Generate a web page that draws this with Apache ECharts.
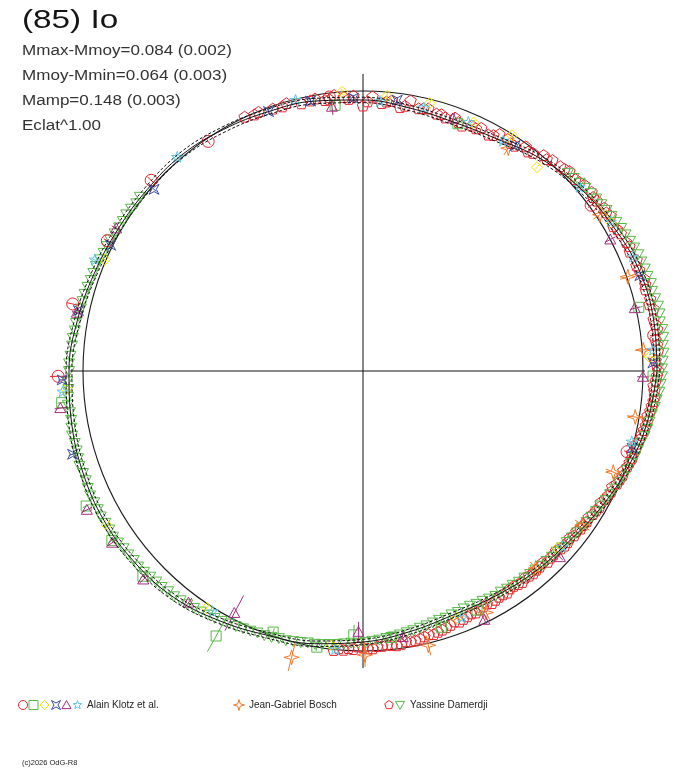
<!DOCTYPE html>
<html>
<head>
<meta charset="utf-8">
<script src="https://cdn.jsdelivr.net/npm/echarts@6/dist/echarts.min.js"></script>
<style>
html, body { margin: 0; padding: 0; background: #fff; }
#main { width: 688px; height: 768px; }
</style>
</head>
<body>
<div id="main"></div>
<script>
// model curve: rotational phase angle (deg) and relative radius (reference circle = 1)
var curveAngle = [0, 10, 20, 30, 40, 50, 60, 70, 80, 90, 100, 110, 120, 130, 140, 150, 160, 170,
                  180, 190, 200, 210, 220, 230, 240, 250, 260, 270, 280, 290, 300, 310, 320, 330, 340, 350];
var curveR = [1.050, 1.054, 1.050, 1.032, 1.014, 0.989, 0.957, 0.946, 0.954, 0.968, 0.979, 0.986,
              0.996, 1.007, 1.007, 1.011, 1.021, 1.036, 1.050, 1.057, 1.064, 1.068, 1.064, 1.054,
              1.029, 1.004, 0.989, 0.968, 0.946, 0.929, 0.932, 0.943, 0.954, 0.979, 1.007, 1.032];

// observations: [angle, radius, error]
var damerdjiPent = [[115,1.000],[113,.993],[112,.996],[109,.989],[107,.986],[106,.993],[103,.979],[101,.982],
  [100,.986],[98,.975],[97,.975],[96,.989],[94,.979],[93,.971],[92,.982],[90,.946],[89,.961],[88,.979],
  [86,.957],[85,.964],[84,.968],[82,.950],[81,.957],[80,.979],[78,.957],[77,.961],[76,.964],[74,.954],
  [73,.957],[72,.950],[70,.961],[69,.950],[68,.943],[66,.957],[65,.954],[64,.964],[62,.954],[61,.961],
  [60,.975],[58,.975],[57,.968],[56,.968],[54,.989],[53,.979],[52,.986],[50,1.004],[49,1.000],[48,1.011],
  [46,1.014],[45,1.018],[44,1.025],[42,1.021],[41,1.025],[40,1.032],[38,1.036],[37,1.029],[36,1.032],
  [34,1.039],[33,1.036],[32,1.043],[30,1.032],[29,1.039],[28,1.043],[26,1.046],[25,1.050],[24,1.043],
  [22,1.054],[21,1.046],[20,1.050],[18,1.057],[17,1.054],[16,1.050],[14,1.057],[13,1.050],[12,1.061],
  [10,1.054],[9,1.057],[8,1.061],[6,1.050],[5,1.054],[4,1.057],[2,1.046],[1,1.050],[0,1.054],
  [359,1.050],[358,1.046],[357,1.039],[356,1.043],[355,1.046],[354,1.043],[353,1.039],[352,1.036],
  [351,1.029],[350,1.032],[349,1.029],[348,1.025],[347,1.021],[346,1.018],[345,1.011],[344,1.014],
  [343,1.004],[342,1.011],[341,1.007],[340,1.004],[339,.996],[338,1.000],[337,.996],[336,.993],
  [335,.982],[334,.986],[333,.982],[332,.979],[331,.971],[330,.975],[329,.971],[328,.968],[327,.961],
  [326,.964],[325,.961],[324,.961],[323,.954],[322,.957],[321,.950],[320,.954],[319,.954],[318,.950],
  [317,.943],[316,.946],[315,.946],[314,.950],[313,.939],[312,.943],[311,.943],[310,.946],[309,.943],
  [308,.939],[307,.946],[306,.943],[305,.939],[304,.939],[303,.946],[302,.943],[301,.943],[300,.946],
  [299,.950],[298,.943],[297,.946],[296,.950],[295,.954],[294,.950],[293,.954],[292,.957],[291,.961],
  [290,.954],[289,.961],[288,.964],[287,.968],[286,.971],[285,.975],[284,.971],[283,.975],[282,.979],
  [281,.982],[280,.982],[279,.979],[278,.986],[277,.989],[276,.986],[275,.982],[274,.986],[273,.986],
  [272,.993],[271,.993],[270,.989],[269,.986],[268,.996],[267,.993],[266,1.000],[265,.996],[264,1.004]];
var damerdjiTri = [[142,1.011],[143.5,1.007],[145,1.011],[146.5,1.014],[148,1.011],[149.5,1.011],
  [151,1.014],[152.5,1.018],[154,1.018],[155.5,1.018],[157,1.021],[158.5,1.025],[160,1.025],
  [161.5,1.025],[163,1.029],[164.5,1.032],[166,1.032],[167.5,1.032],[169,1.036],[170.5,1.039],
  [172,1.039],[173.5,1.043],[175,1.043],[177,1.046],[178.5,1.050],[180,1.050],[182,1.057],[183.5,1.054],
  [185,1.057],[186.5,1.061],[188,1.057],[189.5,1.057],[191,1.061],[192.5,1.064],[194,1.061],
  [195.5,1.061],[197,1.064],[198.5,1.068],[200,1.064],[201.5,1.064],[203,1.068],[204.5,1.071],
  [206,1.068],[207.5,1.068],[209,1.071],[210.5,1.068],[212,1.068],[213.5,1.071],[215,1.068],
  [216.5,1.064],[218,1.064],[219.5,1.061],[221,1.064],[222.5,1.061],[224,1.057],[225.5,1.054],
  [227,1.054],[228.5,1.050],[230,1.050],[231.5,1.046],[233,1.043],[234.5,1.039],[236,1.036],
  [237.5,1.032],[239,1.029],[240.5,1.025],[242,1.021],[243.5,1.018],[245,1.014],[246.5,1.011],
  [248,1.007],[249.5,1.007],[251,1.004],[252.5,1.000],[254,1.000],[255.5,.996],[257,.993],[258.5,.989],
  [260,.989],[261.5,.986],[263,.982],[264.5,.979],[266,.975],[267.5,.971],[269,.971],[270.5,.968],
  [272,.964],[273.5,.961],[275,.957],[276.5,.954],[278,.950],[279.5,.946],[281,.943],[282.5,.939],
  [284,.936],[285.5,.932],[287,.929],[288.5,.929],[290,.925],[291.5,.925],[293,.921],[294.5,.921],
  [296,.925],[297.5,.925],[299,.929],[300.5,.932],[302,.929],[303.5,.932],[305,.932],[306.5,.936],
  [308,.936],[309.5,.939],[311,.939],[312.5,.943],[314,.943],[315.5,.946],[317,.946],[318.5,.950],
  [320,.950],[321.5,.954],[323,.957],[324.5,.961],[326,.964],[327.5,.968],[329,.971],[330.5,.975],
  [332,.982],[333.5,.986],[335,.993],[336.5,.996],[338,1.004],[339.5,1.007],[341,1.011],[342.5,1.018],
  [344,1.021],[345.5,1.025],[347,1.032],[348.5,1.036],[350,1.039],[351.5,1.043],[353,1.050],
  [354.5,1.054],[356,1.061],[357.5,1.064],[359,1.068],[0.5,1.068],[2,1.071],[3.5,1.075],[5,1.075],
  [6.5,1.079],[8,1.079],[9.5,1.075],[11,1.079],[12.5,1.079],[14,1.075],[15.5,1.071],[17,1.075],
  [18.5,1.071],[20,1.071],[21.5,1.068],[23,1.068],[24.5,1.064],[26,1.061],[27.5,1.057],[29,1.054],
  [30.5,1.050],[32,1.046],[33.5,1.043],[35,1.039],[36.5,1.036],[38,1.032],[39.5,1.029],[41,1.025],
  [42.5,1.021],[44,1.018]];
var boschStar = [[56.9,.950,.029],[33.4,1.014,.029],[19.6,1.004,.029],[4.3,1.004,.029],[350.4,.986,.029],
  [338,.964,.029],[324.9,.957,.032],[311.2,.936,.029],[297,.968,.029],[283.4,1.007,.036],
  [270.4,1.014,.043],[256,1.054,.050]];
var klotzCircle = [[97,.986,.011],[124,.989,.014],[138,1.018,.018],[153,1.025,.014],[167,1.064,.021],
  [181,1.089,.029],[36,1.007,.014],[7,1.046,.014],[343,.986,.011]];
var klotzSquare = [[186,1.082,.014],[206,1.100,.014],[214,1.082,.014],[223,1.075,.014],[241,1.082,.064],
  [251,.986,.014],[260.5,1.000,.014],[268,.943,.036],[276,.957,.014],[287,.957,.014],[295.5,.946,.014],
  [96,.954,.021],[69,.946,.021],[13,1.011,.014],[359,1.036,.014]];
var klotzDiamond = [[94.3,1.000,.011],[85,.986,.011],[76,.986,.011],[66,.971,.011],[57.7,.996,.011],
  [49.5,.957,.011],[31,1.032,.011],[2.8,1.025,.011],[156.7,1.004,.011],[183.5,1.061,.011],
  [211,1.068,.011],[236.6,1.014,.011],[263.5,.986,.011],[290.8,.943,.011],[317.8,.939,.011]];
var klotzQuad = [[110,.986,.011],[101,.982,.011],[92,.975,.011],[82.8,.975,.011],[56,.971,.011],
  [139,.989,.011],[153.5,1.007,.011],[168,1.039,.011],[181.7,1.075,.014],[196,1.079,.014],
  [19,1.046,.011],[1.6,1.036,.011],[344,1.000,.011]];
var klotzTri = [[96.7,.950,.029],[70.4,.957,.021],[150,1.018,.018],[168.5,1.043,.018],[187,1.089,.021],
  [206.7,1.104,.021],[214.4,1.086,.018],[223.5,1.082,.018],[233,1.036,.021],[242,.979,.071],
  [269,.932,.036],[278.5,.961,.014],[296,.989,.018],[316.6,.968,.014],[28,1.000,.021],
  [13,.996,.018],[358.8,1.000,.021]];
var klotzStar = [[131,1.011,.011],[157.5,1.036,.011],[184,1.075,.011],[238,1.014,.011],[104,.996,.011],
  [86.4,.964,.011],[77,.964,.011],[67,.964,.011],[58.6,.961,.011],[40.3,1.014,.011],[31,1.032,.011],
  [22.9,1.046,.011],[4.1,1.039,.011],[345.2,.993,.011],[318.5,.950,.011],[291.8,.950,.011],
  [264.3,1.000,.011]];

var titleLines = ['Mmax-Mmoy=0.084 (0.002)', 'Mmoy-Mmin=0.064 (0.003)', 'Mamp=0.148 (0.003)', 'Eclat^1.00'];

var COL = {
  red: '#e8262e', green: '#58b947', yellow: '#f3e400', blue: '#3b4ea3',
  purple: '#a82f80', cyan: '#5ec6e2', orange: '#f07a2a'
};

// unit outlines of the marker shapes
var SHAPES = {
  square: [[-1,-1],[1,-1],[1,1],[-1,1]],
  diamond: [[0,-1],[1,0],[0,1],[-1,0]],
  triangle: [[0,-1],[1,0.8],[-1,0.8]],
  invTriangle: [[-1,-0.8],[1,-0.8],[0,1]],
  pentagon: [[0,-1],[0.951,-0.309],[0.588,0.809],[-0.588,0.809],[-0.951,-0.309]],
  star5: [[0,-1],[0.235,-0.324],[0.951,-0.309],[0.38,0.124],[0.588,0.809],[0,0.4],[-0.588,0.809],
          [-0.38,0.124],[-0.951,-0.309],[-0.235,-0.324]],
  quad: [[-1,-1],[0,-0.45],[1,-1],[0.45,0],[1,1],[0,0.45],[-1,1],[-0.45,0]],
  star4: [[0,-1],[0.22,-0.22],[1,0],[0.22,0.22],[0,1],[-0.22,0.22],[-1,0],[-0.22,-0.22]]
};

function symbolEl(shape, x, y, s, color) {
  var style = { fill: 'none', stroke: color, lineWidth: 1 };
  if (shape === 'circle') {
    return { type: 'circle', shape: { cx: x, cy: y, r: s / 2 }, style: style };
  }
  var pts = SHAPES[shape].map(function (q) { return [x + q[0] * s / 2, y + q[1] * s / 2]; });
  return { type: 'polygon', shape: { points: pts }, style: style };
}

// polar 0 only draws the reference circle, polar 1 carries the data,
// polars 2 and 3 give the dashed band around the model curve
var CENTER = [363, 371];
var UNIT = 280;      // pixels for radius 1
var RMAX = 1.2;

function markerSeries(name, points, shape, color, size) {
  return {
    type: 'custom',
    name: name,
    coordinateSystem: 'polar',
    polarIndex: 1,
    z: 3,
    data: points.map(function (p) { return [p[1], p[0], p[2] || 0]; }),
    encode: { radius: 0, angle: 1 },
    renderItem: function (params, api) {
      var r = api.value(0), a = api.value(1), e = api.value(2);
      var p = api.coord([r, a]);
      var children = [];
      if (e > 0) {
        var p1 = api.coord([r - e, a]), p2 = api.coord([r + e, a]);
        children.push({ type: 'line', shape: { x1: p1[0], y1: p1[1], x2: p2[0], y2: p2[1] },
                        style: { stroke: color, lineWidth: 1 } });
      }
      children.push(symbolEl(shape, p[0], p[1], size, color));
      return { type: 'group', children: children };
    }
  };
}

var curveData = curveAngle.map(function (a, i) { return [curveR[i], a]; });
curveData.push([curveR[0], 360]);

function curveSeries(idx, dashed) {
  return {
    type: 'line', coordinateSystem: 'polar', polarIndex: idx, data: curveData,
    smooth: 0.4, symbol: 'none', clip: false, silent: true, z: 5,
    lineStyle: { color: '#111', width: 1, type: dashed ? [3, 2] : 'solid' }
  };
}

var chart = echarts.init(document.getElementById('main'));

var legendItems = [];
[['circle', COL.red, 23], ['square', COL.green, 33.5], ['diamond', COL.yellow, 44.5],
 ['quad', COL.blue, 56], ['triangle', COL.purple, 66.5], ['star5', COL.cyan, 77.5],
 ['star4', COL.orange, 239], ['pentagon', COL.red, 389], ['invTriangle', COL.green, 400]].forEach(function (d) {
  legendItems.push(symbolEl(d[0], d[2], 705, d[0] === 'star4' ? 11 : 9, d[1]));
});

var textFont = '"Liberation Sans", Arial, sans-serif';
var graphics = [
  { type: 'text', x: 22, y: 21, scaleX: 1.28,
    style: { text: '(85) Io', fontSize: 26, fontFamily: textFont, fill: '#151515', verticalAlign: 'middle' } },
  { type: 'text', x: 22, y: 763,
    style: { text: '(c)2026 OdG-R8', fontSize: 7.5, fontFamily: textFont, fill: '#222', verticalAlign: 'middle' } },
  { type: 'text', x: 87, y: 705,
    style: { text: 'Alain Klotz et al.', fontSize: 10, fontFamily: textFont, fill: '#222', verticalAlign: 'middle' } },
  { type: 'text', x: 249, y: 705,
    style: { text: 'Jean-Gabriel Bosch', fontSize: 10, fontFamily: textFont, fill: '#222', verticalAlign: 'middle' } },
  { type: 'text', x: 410, y: 705,
    style: { text: 'Yassine Damerdji', fontSize: 10, fontFamily: textFont, fill: '#222', verticalAlign: 'middle' } },
  { type: 'group', children: legendItems }
];
titleLines.forEach(function (t, i) {
  graphics.push({ type: 'text', x: 22, y: 51 + i * 24.8, scaleX: 1.1,
    style: { text: t, fontSize: 15.5, fontFamily: textFont, fill: '#333', verticalAlign: 'middle' } });
});

var hiddenAxis = { axisLine: { show: false }, axisTick: { show: false }, axisLabel: { show: false }, splitLine: { show: false } };
var polarDefs = [
  { radius: UNIT, max: 1 },
  { radius: UNIT * RMAX, max: RMAX },
  { radius: UNIT * RMAX * 0.99, max: RMAX },
  { radius: UNIT * RMAX * 1.01, max: RMAX }
];

chart.setOption({
  animation: false,
  backgroundColor: '#fff',
  polar: polarDefs.map(function (d) { return { center: CENTER, radius: d.radius }; }),
  angleAxis: polarDefs.map(function (d, i) {
    return {
      polarIndex: i, type: 'value', min: 0, max: 360, startAngle: 0, clockwise: false,
      axisLine: { show: i === 0, lineStyle: { color: '#1a1a1a', width: 1.1 } },
      axisTick: { show: false }, axisLabel: { show: false }, splitLine: { show: false }
    };
  }),
  radiusAxis: polarDefs.map(function (d, i) {
    return Object.assign({ polarIndex: i, type: 'value', min: 0, max: d.max }, hiddenAxis);
  }),
  graphic: graphics,
  series: [
    // cross through the centre
    { type: 'line', coordinateSystem: 'polar', polarIndex: 1, symbol: 'none', clip: false, silent: true, z: 1,
      data: [[1.007, 0], [0, 0], [1.046, 180]], lineStyle: { color: '#111', width: 1 } },
    { type: 'line', coordinateSystem: 'polar', polarIndex: 1, symbol: 'none', clip: false, silent: true, z: 1,
      data: [[1.061, 90], [0, 90], [1.061, 270]], lineStyle: { color: '#111', width: 1 } },
    markerSeries('Yassine Damerdji', damerdjiPent, 'pentagon', COL.red, 12),
    markerSeries('Yassine Damerdji', damerdjiTri, 'invTriangle', COL.green, 11),
    markerSeries('Jean-Gabriel Bosch', boschStar, 'star4', COL.orange, 15),
    markerSeries('Alain Klotz et al.', klotzCircle, 'circle', COL.red, 12),
    markerSeries('Alain Klotz et al.', klotzSquare, 'square', COL.green, 10),
    markerSeries('Alain Klotz et al.', klotzDiamond, 'diamond', COL.yellow, 11),
    markerSeries('Alain Klotz et al.', klotzQuad, 'quad', COL.blue, 10),
    markerSeries('Alain Klotz et al.', klotzTri, 'triangle', COL.purple, 11),
    markerSeries('Alain Klotz et al.', klotzStar, 'star5', COL.cyan, 12),
    curveSeries(1, false),
    curveSeries(2, true),
    curveSeries(3, true)
  ]
});
</script>
</body>
</html>
